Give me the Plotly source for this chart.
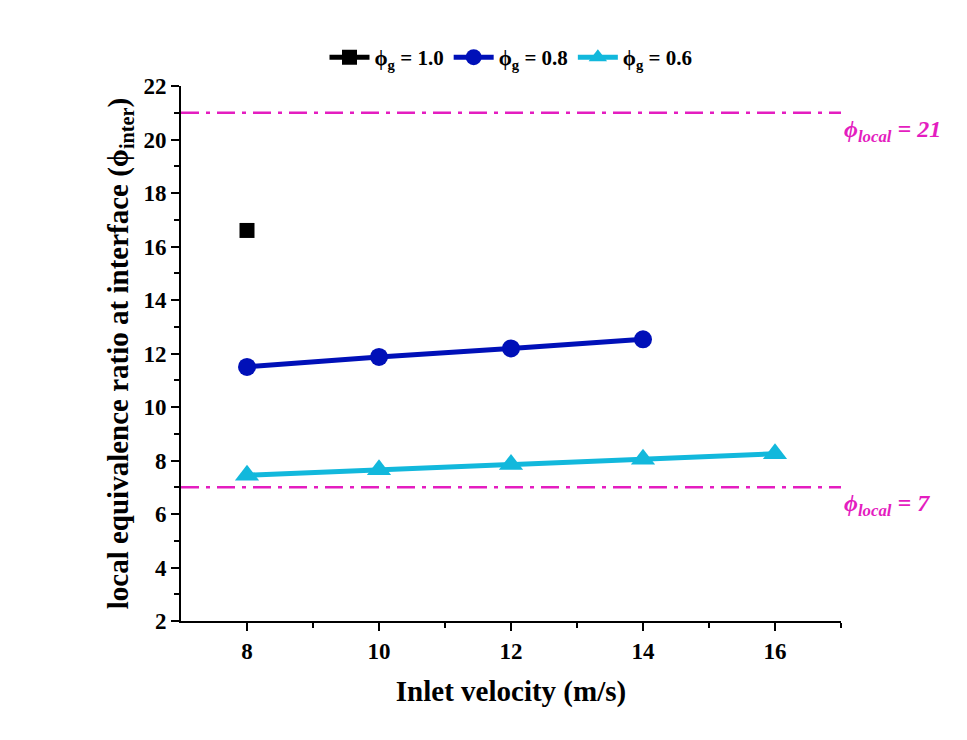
import plotly.graph_objects as go

x_g10 = [8]
y_g10 = [16.6]
x_g08 = [8, 10, 12, 14]
y_g08 = [11.5, 11.87, 12.19, 12.53]
x_g06 = [8, 10, 12, 14, 16]
y_g06 = [7.45, 7.65, 7.85, 8.05, 8.25]
ref_levels = [21, 7]
ref_labels = ["21", "7"]
x_ticks = [8, 10, 12, 14, 16]
y_ticks = [2, 4, 6, 8, 10, 12, 14, 16, 18, 20, 22]

FONT = "Liberation Serif, Times New Roman, serif"
MAG = "#E41DC0"

fig = go.Figure()
fig.add_trace(go.Scatter(x=x_g10, y=y_g10, mode="lines+markers", name="<b>ϕ<sub>g</sub> = 1.0</b>",
                         line=dict(color="black", width=5),
                         marker=dict(symbol="square", size=15, color="black")))
fig.add_trace(go.Scatter(x=x_g08, y=y_g08, mode="lines+markers", name="<b>ϕ<sub>g</sub> = 0.8</b>",
                         line=dict(color="#0010B8", width=5),
                         marker=dict(symbol="circle", size=18, color="#0010B8")))
fig.add_trace(go.Scatter(x=x_g06, y=y_g06, mode="lines+markers", name="<b>ϕ<sub>g</sub> = 0.6</b>",
                         line=dict(color="#12B8DC", width=5),
                         marker=dict(symbol="triangle-up", size=21, color="#12B8DC")))

for lvl, lab in zip(ref_levels, ref_labels):
    fig.add_shape(type="line", xref="paper", yref="y", x0=0, x1=1, y0=lvl, y1=lvl,
                  line=dict(color=MAG, width=2.5, dash="18px,7px,4px,7px"))
    fig.add_annotation(xref="paper", yref="y", x=1, y=lvl, xanchor="left", yanchor="top",
                       xshift=1, yshift=-1, showarrow=False,
                       text=f"<b><i>ϕ<sub>local</sub> = {lab}</i></b>",
                       font=dict(family=FONT, size=24, color=MAG))

tickfont = dict(family=FONT, size=23, color="black")
fig.update_layout(
    width=967, height=740,
    margin=dict(l=181, r=126, t=86, b=119),
    paper_bgcolor="white", plot_bgcolor="white",
    font=dict(family=FONT, color="black"),
    showlegend=True,
    legend=dict(orientation="h", x=0.5, xanchor="center", y=1.015, yanchor="bottom",
                font=dict(family=FONT, size=21, color="black"),
                itemwidth=40, tracegroupgap=0, bgcolor="rgba(0,0,0,0)"),
    xaxis=dict(range=[7, 17], tickmode="array", tickvals=x_ticks,
               ticktext=[f"<b>{v}</b>" for v in x_ticks],
               showline=True, linecolor="black", linewidth=2, mirror=False,
               ticks="outside", ticklen=8, tickwidth=2, tickcolor="black",
               minor=dict(tickvals=[9, 11, 13, 15, 17], ticks="outside", ticklen=5, tickwidth=2, tickcolor="black"),
               showgrid=False, zeroline=False,
               tickfont=tickfont,
               title=dict(text="<b>Inlet velocity (m/s)</b>", font=dict(family=FONT, size=29, color="black"), standoff=18)),
    yaxis=dict(range=[2, 22], tickmode="array", tickvals=y_ticks,
               ticktext=[f"<b>{v}</b>" for v in y_ticks],
               showline=True, linecolor="black", linewidth=2, mirror=False,
               ticks="outside", ticklen=8, tickwidth=2, tickcolor="black",
               minor=dict(tickvals=[3, 5, 7, 9, 11, 13, 15, 17, 19, 21], ticks="outside", ticklen=5, tickwidth=2, tickcolor="black"),
               showgrid=False, zeroline=False,
               tickfont=tickfont,
               title=dict(text="<b>local equivalence ratio at interface (ϕ<sub>inter</sub>)</b>",
                          font=dict(family=FONT, size=29, color="black"), standoff=6)),
)

fig.write_html("out.html")
